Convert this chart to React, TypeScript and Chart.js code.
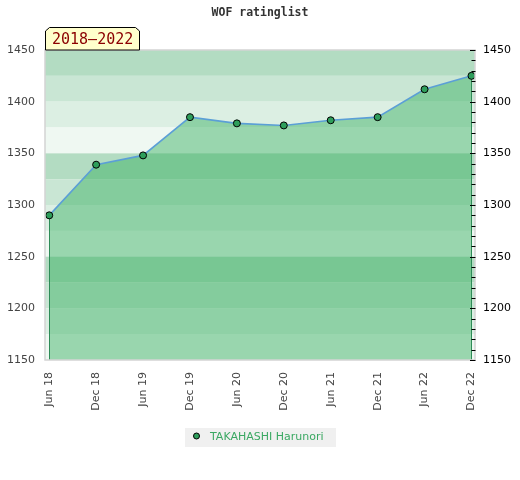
import { useEffect, useRef } from "react";
import { Chart, registerables } from "chart.js";

Chart.register(...registerables);

const periods = ["Jun 18", "Dec 18", "Jun 19", "Dec 19", "Jun 20", "Dec 20", "Jun 21", "Dec 21", "Jun 22", "Dec 22"];
const ratings = [1290, 1339, 1348, 1385, 1379, 1377, 1382, 1385, 1412, 1425];
const yMin = 1150;
const yMax = 1450;
const playerName = "TAKAHASHI Harunori";
const chartTitle = "WOF ratinglist";
const rangeLabel = "2018–2022";
const bandShades = ["#b3dcc2", "#c9e6d4", "#dcefe3", "#eff8f2"];

const decor = {
  id: "decor",
  beforeDatasetsDraw(chart: any) {
    const { ctx, chartArea: a, scales } = chart;
    const y = scales.y;
    ctx.save();
    let i = 0;
    for (let v = yMax; v > yMin; v -= 25, i++) {
      const top = y.getPixelForValue(v);
      const bot = y.getPixelForValue(v - 25);
      ctx.fillStyle = bandShades[i % 4];
      ctx.fillRect(a.left, top, a.right - a.left, bot - top);
    }
    ctx.restore();
  },
  beforeDatasetDraw(chart: any) {
    const { ctx, chartArea: a } = chart;
    const pts = chart.getDatasetMeta(0).data;
    if (!pts.length) return;
    ctx.save();
    ctx.strokeStyle = "#2e8b57";
    ctx.lineWidth = 1;
    [pts[0], pts[pts.length - 1]].forEach((p: any) => {
      const x = Math.round(p.x) + 0.5;
      ctx.beginPath();
      ctx.moveTo(x, p.y);
      ctx.lineTo(x, a.bottom);
      ctx.stroke();
    });
    ctx.restore();
  },
  afterDraw(chart: any) {
    const { ctx, chartArea: a, scales } = chart;
    const y = scales.y;
    ctx.save();
    // plot border
    ctx.strokeStyle = "#d4d4d4";
    ctx.lineWidth = 1.5;
    ctx.strokeRect(a.left, a.top, a.right - a.left, a.bottom - a.top);
    // right ticks
    ctx.strokeStyle = "#000";
    ctx.lineWidth = 1;
    for (let v = yMin; v <= yMax; v += 10) {
      const py = Math.round(y.getPixelForValue(v)) + 0.5;
      const len = v % 50 === 0 ? 5 : 3.5;
      ctx.beginPath();
      ctx.moveTo(a.right - len, py);
      ctx.lineTo(a.right + 0.5, py);
      ctx.stroke();
    }
    // title
    ctx.fillStyle = "#333";
    ctx.font = "bold 11.5px 'DejaVu Sans Mono'";
    ctx.textAlign = "center";
    ctx.textBaseline = "middle";
    ctx.fillText(chartTitle, 260, 13);
    // range box
    const bl = a.left, br = 140, bt = 27, bb = a.top;
    ctx.beginPath();
    ctx.moveTo(bl + 0.5, bb);
    ctx.lineTo(bl + 0.5, bt + 4);
    ctx.lineTo(bl + 4.5, bt + 0.5);
    ctx.lineTo(br - 4.5, bt + 0.5);
    ctx.lineTo(br - 0.5, bt + 4);
    ctx.lineTo(br - 0.5, bb);
    ctx.closePath();
    ctx.fillStyle = "#ffffcc";
    ctx.fill();
    ctx.strokeStyle = "#000";
    ctx.lineWidth = 1;
    ctx.stroke();
    ctx.fillStyle = "#8b0000";
    ctx.font = "15px 'DejaVu Sans Mono'";
    ctx.textAlign = "left";
    ctx.textBaseline = "middle";
    ctx.fillText(rangeLabel, 52, 40);
    // legend
    ctx.fillStyle = "#f0f0f0";
    ctx.fillRect(185, 428, 151, 19);
    ctx.beginPath();
    ctx.arc(196.5, 436, 3, 0, Math.PI * 2);
    ctx.fillStyle = "#2e9e5b";
    ctx.fill();
    ctx.strokeStyle = "#000";
    ctx.stroke();
    ctx.fillStyle = "#3aa862";
    ctx.font = "11px 'DejaVu Sans'";
    ctx.textAlign = "left";
    ctx.textBaseline = "middle";
    ctx.fillText(playerName, 210, 437);
    ctx.restore();
  },
};

export default function App() {
  const ref = useRef<HTMLCanvasElement>(null);
  useEffect(() => {
    if (!ref.current) return;
    Chart.defaults.font.family = "'DejaVu Sans'";
    const chart = new Chart(ref.current, {
      type: "line",
      data: {
        datasets: [
          {
            label: playerName,
            data: ratings.map((r, i) => ({ x: i, y: r })),
            borderColor: "#5b9fd6",
            borderWidth: 1.6,
            backgroundColor: "rgba(48,172,92,0.45)",
            fill: "start",
            tension: 0,
            pointRadius: 3.5,
            pointHoverRadius: 3.5,
            pointBackgroundColor: "#2e9e5b",
            pointBorderColor: "#000",
            pointBorderWidth: 1,
          },
        ],
      },
      options: {
        animation: false,
        responsive: false,
        layout: { padding: { top: 50, left: 0, right: 0, bottom: 0 } },
        plugins: { legend: { display: false }, title: { display: false }, tooltip: { enabled: false } },
        scales: {
          x: {
            type: "linear",
            min: -0.09,
            max: periods.length - 1 + 0.075,
            afterBuildTicks: (s: any) => {
              s.ticks = periods.map((_, i) => ({ value: i }));
            },
            afterFit: (s: any) => {
              s.height = 120;
            },
            grid: { display: false, drawTicks: false },
            border: { display: false },
            ticks: {
              autoSkip: false,
              minRotation: 90,
              maxRotation: 90,
              padding: 12,
              color: "#444",
              font: { size: 11 },
              callback: (v: any) => periods[v] ?? "",
            },
          },
          y: {
            position: "left",
            min: yMin,
            max: yMax,
            afterFit: (s: any) => {
              s.width = 45;
            },
            grid: { display: false, drawTicks: false },
            border: { display: false },
            ticks: { stepSize: 50, padding: 10, color: "#444", font: { size: 11 }, callback: (v: any) => String(v) },
          },
          y2: {
            position: "right",
            min: yMin,
            max: yMax,
            afterFit: (s: any) => {
              s.width = 45;
            },
            grid: { display: false, drawTicks: false },
            border: { display: false },
            ticks: { stepSize: 50, padding: 8, color: "#000", font: { size: 11 }, callback: (v: any) => String(v) },
          },
        },
      },
      plugins: [decor],
    } as any);
    return () => chart.destroy();
  }, []);
  return (
    <div style={{ position: "absolute", left: 0, top: 0, width: 520, height: 480 }}>
      <canvas ref={ref} width={520} height={480} style={{ width: 520, height: 480 }} />
    </div>
  );
}
